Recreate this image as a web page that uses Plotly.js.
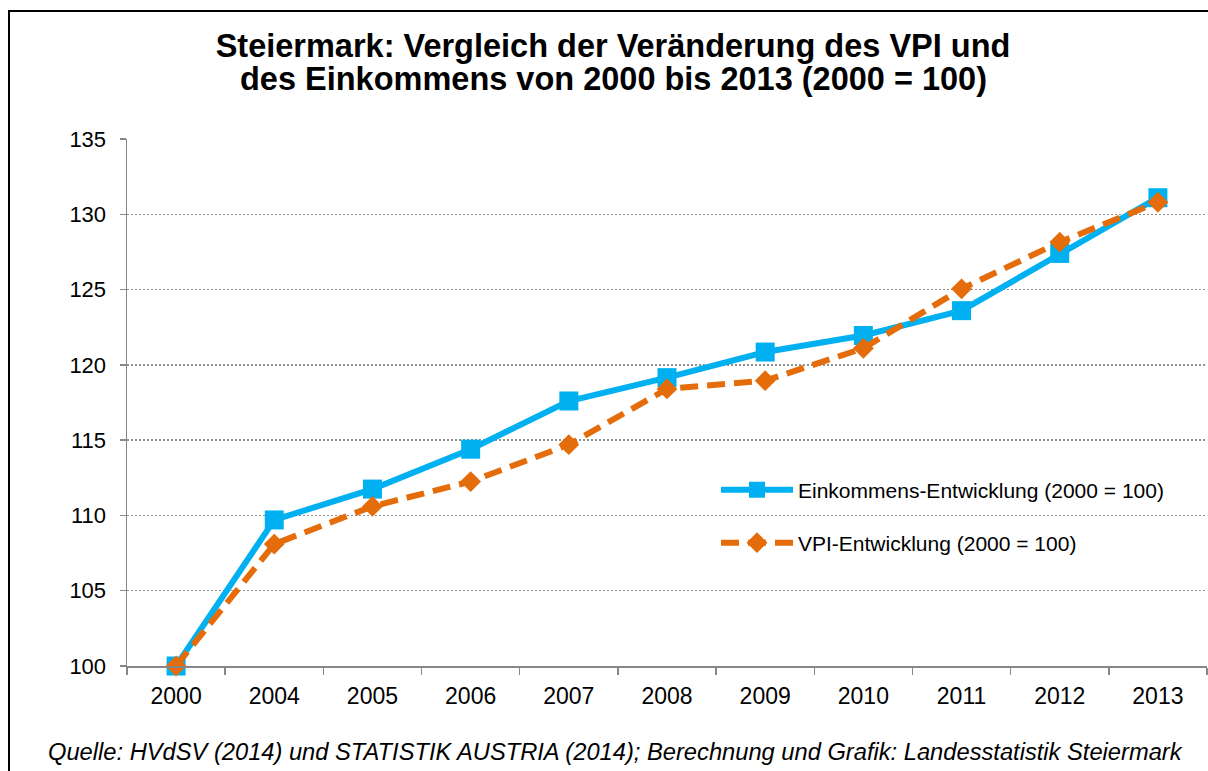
<!DOCTYPE html>
<html>
<head>
<meta charset="utf-8">
<script src="https://cdn.plot.ly/plotly-3.0.1.min.js"></script>
<style>html,body{margin:0;padding:0;background:#fff;}#chart{width:1208px;height:771px;}</style>
</head>
<body>
<div id="chart"></div>
<script>
const years = ['2000','2004','2005','2006','2007','2008','2009','2010','2011','2012','2013'];
const einkommen = [100, 109.7, 111.75, 114.4, 117.6, 119.15, 120.85, 121.95, 123.6, 127.4, 131.1];
const vpi = [100, 108.1, 110.6, 112.25, 114.7, 118.4, 118.95, 121.1, 125.05, 128.15, 130.8];
const seriesNames = ['Einkommens-Entwicklung (2000 = 100)', 'VPI-Entwicklung (2000 = 100)'];
const titleLines = ['Steiermark: Vergleich der Veränderung des VPI und', 'des Einkommens von 2000 bis 2013 (2000 = 100)'];
const sourceText = 'Quelle: HVdSV (2014) und STATISTIK AUSTRIA (2014); Berechnung und Grafik: Landesstatistik Steiermark';

const FONT = 'Liberation Sans, Arial, sans-serif';
const axisGrey = '#878787';

const traces = [
  {
    x: years, y: einkommen, type: 'scatter', mode: 'lines+markers',
    name: seriesNames[0], legend: 'legend', cliponaxis: false,
    line: {color: '#00B0F0', width: 6},
    marker: {symbol: 'square', size: 19, color: '#00B0F0'}
  },
  {
    x: years, y: vpi, type: 'scatter', mode: 'lines+markers',
    name: seriesNames[1], legend: 'legend2', cliponaxis: false,
    line: {color: '#E46C0A', width: 6, dash: '18px,9px'},
    marker: {symbol: 'diamond', size: 16, color: '#E46C0A'}
  }
];

const legendCommon = {
  xanchor: 'left', yanchor: 'middle',
  font: {family: FONT, size: 21, color: '#000'},
  itemwidth: 72, bgcolor: 'rgba(0,0,0,0)', borderwidth: 0
};

const layout = {
  width: 1208, height: 771,
  margin: {l: 127, r: 1, t: 139, b: 105, pad: 0},
  paper_bgcolor: '#fff', plot_bgcolor: '#fff',
  showlegend: true,
  title: {
    text: titleLines[0],
    font: {family: FONT, size: 32.5, color: '#000', weight: 'bold'},
    xref: 'container', yref: 'container',
    x: 613 / 1208, y: 1 - 46 / 771, xanchor: 'center', yanchor: 'middle'
  },
  xaxis: {
    type: 'category', range: [-0.5, 10.5], autorange: false,
    showline: true, linecolor: axisGrey, linewidth: 1.5,
    ticks: 'outside', tickson: 'boundaries', ticklen: 7, tickwidth: 1.5, tickcolor: axisGrey,
    showgrid: false, zeroline: false,
    tickfont: {family: FONT, size: 23, color: '#000'},
    ticklabelstandoff: 9,
    fixedrange: true
  },
  yaxis: {
    range: [100, 135], autorange: false, tick0: 100, dtick: 5,
    showline: true, linecolor: axisGrey, linewidth: 1.5,
    ticks: 'outside', ticklen: 6, tickwidth: 1.5, tickcolor: axisGrey,
    showgrid: true, gridcolor: '#8f8f8f', gridwidth: 1.3, griddash: '2px,2px',
    zeroline: false,
    tickfont: {family: FONT, size: 22, color: '#000'},
    ticklabelstandoff: 9,
    fixedrange: true
  },
  legend: Object.assign({}, legendCommon, {x: (716 - 127) / 1080, y: (666 - 490) / 527}),
  legend2: Object.assign({}, legendCommon, {x: (716 - 127) / 1080, y: (666 - 543) / 527}),
  annotations: [
    {
      text: titleLines[1], showarrow: false,
      xref: 'paper', yref: 'paper',
      x: (613 - 127) / 1080, y: (666 - 79) / 527, xanchor: 'center', yanchor: 'middle',
      font: {family: FONT, size: 32.5, color: '#000', weight: 'bold'}
    },
    {
      text: sourceText, showarrow: false,
      xref: 'paper', yref: 'paper',
      x: (615 - 127) / 1080, y: (666 - 752) / 527, xanchor: 'center', yanchor: 'middle',
      font: {family: FONT, size: 23.7, color: '#000', style: 'italic'}
    }
  ],
  shapes: [
    {
      type: 'rect', xref: 'paper', yref: 'paper',
      x0: (9 - 127) / 1080, x1: (1220 - 127) / 1080,
      y0: (666 - 790) / 527, y1: (666 - 11) / 527,
      line: {color: '#000', width: 2}, fillcolor: 'rgba(0,0,0,0)', layer: 'above'
    }
  ]
};

Plotly.newPlot('chart', traces, layout, {displayModeBar: false, staticPlot: true});
</script>
</body>
</html>
